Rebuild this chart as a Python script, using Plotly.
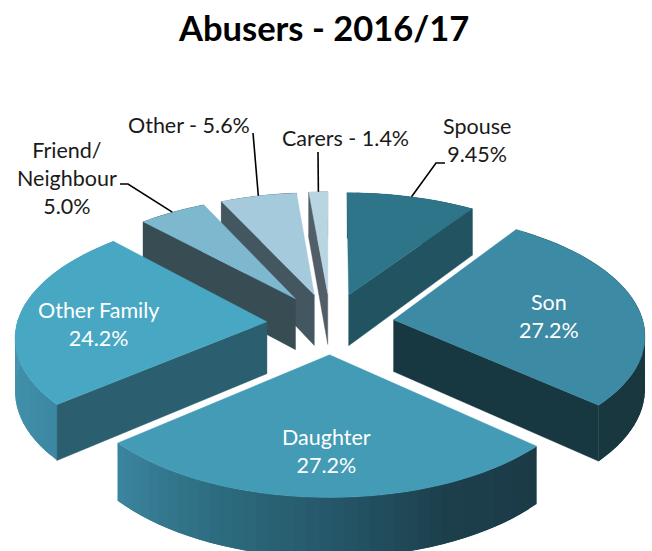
import math
import plotly.graph_objects as go

# ---- data ----
categories = ["Spouse", "Son", "Daughter", "Other Family", "Friend/Neighbour", "Other", "Carers"]
shares = [9.45, 27.2, 27.2, 24.2, 5.0, 5.6, 1.4]
label_text = ["Spouse<br>9.45%", "Son<br>27.2%", "Daughter<br>27.2%", "Other Family<br>24.2%",
              "Friend/<br>Neighbour<br>5.0%", "Other - 5.6%", "Carers - 1.4%"]
title_text = "Abusers - 2016/17"

# ---- styles ----
top_colors = ["#2F758A", "#3C8AA3", "#439BB5", "#48A8C4", "#7EB8CF", "#A5CADB", "#B9D5E2"]
cut_colors = ["#225361", "#183841", "#1B3B47", "#2B5F6F", "#374C53", "#445760", "#515E67"]
rim_stops = [
    [(0, "#225361"), (1, "#225361")],
    [(0, "#18373F"), (1, "#18373F")],
    [(0, "#1B3A46"), (0.24, "#1C3F4C"), (0.5, "#25586A"), (0.75, "#2E6E82"), (1, "#3C85A0")],
    [(0, "#3C88A3"), (0.5, "#4596AF"), (1, "#4798B0")],
    [(0, "#374C53"), (1, "#374C53")],
    [(0, "#445760"), (1, "#445760")],
    [(0, "#515E67"), (1, "#515E67")],
]
draw_order = [6, 5, 4, 0, 3, 1, 2]
label_pos = [(477, 140), (549, 316), (326, 451), (98, 324), (67, 178), (189, 125), (345, 138)]
label_col = ["#1a1a1a", "#ffffff", "#ffffff", "#ffffff", "#1a1a1a", "#1a1a1a", "#1a1a1a"]
leader_via = {0: [(436, 163), (445, 163)], 4: [(128, 184), (120, 184)], 5: [(253, 133)], 6: [(318, 152)]}

# projection of the tilted pie on to the page
CX, CY, AX, BY, EXPL, PERSP, DEPTH = 330.5, 323.5, 250, 119.5, 0.255, 0.11, 52


def project(x, y, z=0.0):
    s = 1 / (1 + PERSP * y)
    return CX + AX * x * s, CY - BY * y * s + (DEPTH * s if z else 0)


def hex_mix(stops, t):
    for (t0, c0), (t1, c1) in zip(stops, stops[1:]):
        if t <= t1:
            f = (t - t0) / (t1 - t0)
            a = [int(c0[i:i + 2], 16) for i in (1, 3, 5)]
            b = [int(c1[i:i + 2], 16) for i in (1, 3, 5)]
            return "rgb(%d,%d,%d)" % tuple(round(p + (q - p) * f) for p, q in zip(a, b))
    return stops[-1][1]


total = sum(shares)
edges = [0.0]
for v in shares:
    edges.append(edges[-1] + v / total * 360)

fig = go.Figure()


def poly(pts, color, lw=0.0):
    fig.add_trace(go.Scatter(
        x=[p[0] for p in pts] + [pts[0][0]], y=[p[1] for p in pts] + [pts[0][1]],
        mode="lines", fill="toself", fillcolor=color,
        line=dict(color=color, width=lw), hoverinfo="skip", showlegend=False))


def slice_point(i, ang, r=1.0):
    mid = math.radians((edges[i] + edges[i + 1]) / 2)
    a = math.radians(ang)
    return (r * math.sin(a) + EXPL * math.sin(mid), r * math.cos(a) + EXPL * math.cos(mid))


for i in draw_order:
    a0, a1 = edges[i], edges[i + 1]
    n = max(2, int((a1 - a0) / 2.5))
    angs = [a0 + (a1 - a0) * k / n for k in range(n + 1)]
    # outer rim: one graded band per step, each reaching under the next so no seams show
    for k in range(n):
        run = angs[k:k + 3]
        upper = [project(*slice_point(i, a)) for a in run]
        lower = [project(*slice_point(i, a), 1) for a in run]
        poly(upper + lower[::-1], hex_mix(rim_stops[i], (k + 0.5) / n))
    # the cut face that looks at the viewer
    apex = slice_point(i, 0, 0)
    for ang, visible in ((a0, math.sin(math.radians(a0)) < 0), (a1, math.sin(math.radians(a1)) > 0)):
        if visible and i != 2:
            e = slice_point(i, ang)
            poly([project(*apex), project(*e), project(*e, 1), project(*apex, 1)], cut_colors[i], 0.4)
    # top face
    poly([project(*apex)] + [project(*slice_point(i, a)) for a in angs], top_colors[i], 0.4)

# leader lines from the slice rim to the outside labels
for i, via in leader_via.items():
    start = project(*slice_point(i, (edges[i] + edges[i + 1]) / 2))
    pts = [start] + via
    fig.add_trace(go.Scatter(x=[p[0] for p in pts], y=[p[1] for p in pts], mode="lines",
                             line=dict(color="#000000", width=1.6), hoverinfo="skip", showlegend=False))

annotations = [dict(x=323, y=27, text="<b>%s</b>" % title_text, showarrow=False, xref="x", yref="y",
                    font=dict(family="Lato", size=34.5, color="#000000"))]
for txt, (x, y), col in zip(label_text, label_pos, label_col):
    annotations.append(dict(x=x, y=y, text=txt, showarrow=False, xref="x", yref="y", align="center",
                            font=dict(family="Lato", size=21.5, color=col)))

fig.update_layout(
    width=652, height=551, margin=dict(l=0, r=0, t=0, b=0),
    paper_bgcolor="#ffffff", plot_bgcolor="#ffffff",
    xaxis=dict(range=[0, 652], visible=False, fixedrange=True),
    yaxis=dict(range=[551, 0], visible=False, fixedrange=True),
    annotations=annotations, showlegend=False)
fig.write_html("out.html", config=dict(displayModeBar=False),
               post_script="document.body.style.margin='0';document.body.style.overflow='hidden';")
